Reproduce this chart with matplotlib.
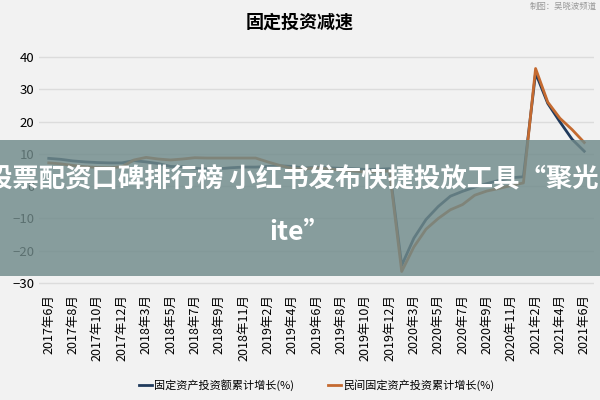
import matplotlib
matplotlib.use("Agg")
import matplotlib.pyplot as plt

plt.rcParams['font.family'] = ['Noto Sans CJK SC', 'DejaVu Sans']

months = (["2017年%d月" % m for m in range(6, 13)] +
          ["2018年%d月" % m for m in range(2, 13)] +
          ["2019年%d月" % m for m in range(2, 13)] +
          ["2020年%d月" % m for m in range(2, 13)] +
          ["2021年%d月" % m for m in range(2, 7)])
fai = [8.6, 8.3, 7.8, 7.5, 7.3, 7.2, 7.2,
       7.9, 7.5, 7.0, 6.1, 6.0, 5.5, 5.3, 5.4, 5.7, 5.9, 5.9,
       6.1, 6.3, 6.1, 5.6, 5.8, 5.7, 5.5, 5.4, 5.2, 5.2, 5.4,
       -24.5, -16.1, -10.3, -6.3, -3.1, -1.6, -0.3, 0.8, 1.8, 2.6, 2.9,
       35.0, 25.6, 19.9, 14.5, 10.8]
private = [7.2, 6.9, 6.4, 6.0, 5.8, 5.7, 6.0,
           8.1, 8.9, 8.4, 8.1, 8.4, 8.8, 8.7, 8.7, 8.7, 8.7, 8.7,
           7.5, 6.4, 5.5, 5.3, 5.7, 5.4, 4.9, 4.7, 4.4, 4.5, 4.7,
           -26.4, -18.8, -13.3, -10.0, -7.3, -5.7, -2.8, -1.5, -0.7, 0.2, 1.0,
           36.4, 26.0, 21.0, 17.5, 13.5]
names = ["固定资产投资额累计增长(%)", "民间固定资产投资累计增长(%)"]

bg = "#f2f2f2"
fig = plt.figure(figsize=(6, 4), dpi=100, facecolor=bg)
ax = fig.add_axes([0.065, 0.276, 0.925, 0.598], facecolor=bg)
x = list(range(len(months)))
ax.plot(x, fai, color="#203a5c", lw=2, label=names[0])
ax.plot(x, private, color="#c46a30", lw=2, label=names[1])
ax.set_ylim(-32, 42)
ax.set_yticks(range(-30, 41, 10))
ax.set_xlim(-0.8, len(months) - 0.2)
ax.set_xticks(x[::2])
ax.set_xticklabels(months[::2], rotation=90, fontsize=9)
ax.tick_params(axis='y', labelsize=9.5, length=0)
ax.tick_params(axis='x', length=0)
ax.grid(axis='y', color="#dcdcdc", lw=1)
ax.set_axisbelow(True)
for s in ax.spines.values():
    s.set_visible(False)
ax.legend(loc='upper center', bbox_to_anchor=(0.5, -0.335), ncol=2, frameon=False,
          fontsize=8, handlelength=1.2, handletextpad=0.2, columnspacing=3)

fig.text(0.5, 0.945, "固定投资减速", ha='center', va='center', fontsize=13, fontweight='bold')
fig.text(0.995, 0.985, "制图：吴晓波频道", ha='right', va='center', fontsize=6, color="#999999")

fig.patches.append(plt.Rectangle((0, 0.31), 1, 0.34, transform=fig.transFigure,
                                 facecolor="#708a8a", alpha=0.82, zorder=10))
fig.text(0.5, 0.55, "股票配资口碑排行榜 小红书发布快捷投放工具“聚光L", ha='center', va='center',
         fontsize=19, fontweight='bold', color='white', zorder=11)
fig.text(0.5, 0.418, "ite”", ha='center', va='center', fontsize=19, fontweight='bold', color='white', zorder=11)

fig.savefig("out.png", facecolor=bg)
